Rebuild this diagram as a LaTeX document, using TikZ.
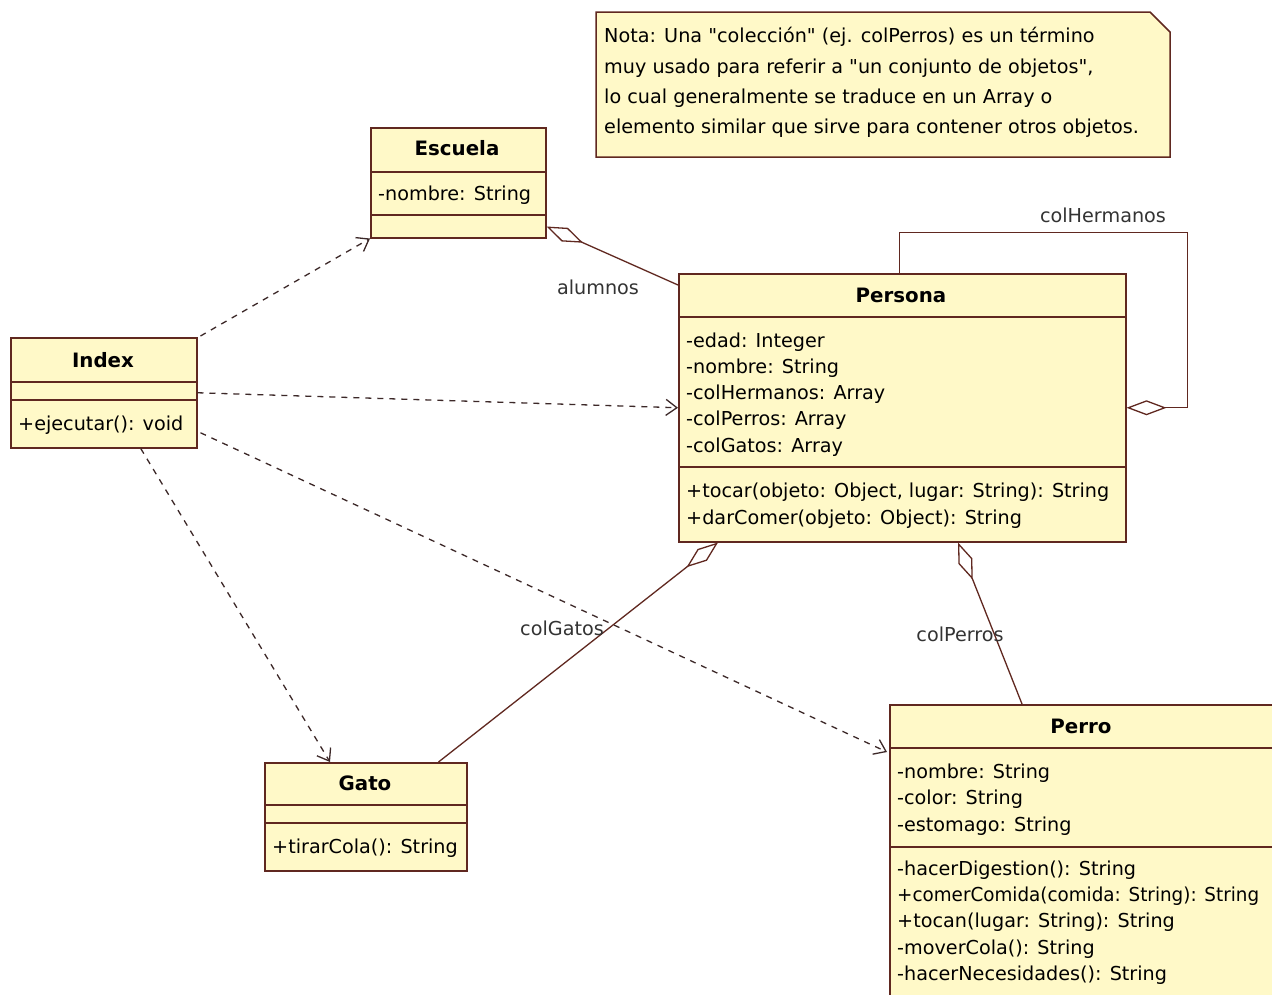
\documentclass[tikz,border=0pt]{standalone}
\usepackage{graphicx}
\usepackage{fontspec}
\setmainfont{DejaVu Sans}
\usetikzlibrary{arrows.meta,calc}
\definecolor{umlfill}{RGB}{255,249,200}
\definecolor{umlline}{RGB}{96,40,32}
\definecolor{depline}{RGB}{60,40,40}
\newcommand\memfont{\fontsize{19.2}{22}\selectfont}
\newcommand\ttlfont{\fontsize{19.8}{22}\selectfont\bfseries}
\newcommand\qq{\textquotedbl}
\tikzset{
  cls/.style={draw=umlline, fill=umlfill, line width=1.5pt, inner sep=0, anchor=north west},
  sepline/.style={draw=umlline, line width=1.5pt},
  ttl/.style={font=\ttlfont, inner sep=0},
  mem/.style={font=\memfont, anchor=base west, inner sep=0},
  lbl/.style={font=\memfont, text=black!80, inner sep=0},
  dep/.style={draw=depline, line width=1.3pt, dash pattern=on 6pt off 6pt,
    -{Straight Barb[length=11pt,width=16pt,line width=1.3pt]}},
  agg/.style={draw=umlline, line width=1.3pt,
    {Diamond[open,length=40pt,width=15pt,line width=1.3pt]}-},
}
\begin{document}
\begin{tikzpicture}[x=1pt,y=-1pt]
\useasboundingbox (0,0) rectangle (1272,994);
\clip (0,0) rectangle (1272,994);
\fill[white] (0,0) rectangle (1272,994);

% note with folded corner
\draw[umlline, fill=umlfill, line width=1.5pt]
  (596,12) -- (1150,12) -- (1170,32) -- (1170,157) -- (596,157) -- cycle;
\node[mem] (n1) at (604,42) {Nota: Una \qq colección\qq{} (ej. colPerros) es un término};
\node[mem] (n2) at (604,73) {muy usado para referir a \qq un conjunto de objetos\qq,};
\node[mem] (n3) at (604,103) {lo cual generalmente se traduce en un Array o};
\node[mem] (n4) at (604,133) {elemento similar que sirve para contener otros objetos.};

% Escuela
\node[cls, minimum width=175pt, minimum height=110pt] (escuela) at (370,127) {};
\draw[sepline] ($(escuela.north west)+(0,45)$) -- ($(escuela.north east)+(0,45)$);
\draw[sepline] ($(escuela.north west)+(0,88)$) -- ($(escuela.north east)+(0,88)$);
\node[ttl] (escuelaT) at (457,148) {Escuela};
\node[mem] (escuelaA1) at (378,200) {-nombre: String};

% Index
\node[cls, minimum width=186pt, minimum height=110pt] (index) at (10,337) {};
\draw[sepline] ($(index.north west)+(0,45)$) -- ($(index.north east)+(0,45)$);
\draw[sepline] ($(index.north west)+(0,63)$) -- ($(index.north east)+(0,63)$);
\node[ttl] (indexT) at (103,360) {Index};
\node[mem] (indexM1) at (18,430) {+ejecutar(): void};

% Persona
\node[cls, minimum width=447pt, minimum height=268pt] (persona) at (678,273) {};
\draw[sepline] ($(persona.north west)+(0,44)$) -- ($(persona.north east)+(0,44)$);
\draw[sepline] ($(persona.north west)+(0,194)$) -- ($(persona.north east)+(0,194)$);
\node[ttl] (personaT) at (901,295) {Persona};
\node[mem] (personaA1) at (686,347) {-edad: Integer};
\node[mem] (personaA2) at (686,373) {-nombre: String};
\node[mem] (personaA3) at (686,399) {-colHermanos: Array};
\node[mem] (personaA4) at (686,425) {-colPerros: Array};
\node[mem] (personaA5) at (686,452) {-colGatos: Array};
\node[mem] (personaM1) at (686,497) {+tocar(objeto: Object, lugar: String): String};
\node[mem] (personaM2) at (686,524) {+darComer(objeto: Object): String};

% Gato
\node[cls, minimum width=202pt, minimum height=108pt] (gato) at (264,762) {};
\draw[sepline] ($(gato.north west)+(0,43)$) -- ($(gato.north east)+(0,43)$);
\draw[sepline] ($(gato.north west)+(0,61)$) -- ($(gato.north east)+(0,61)$);
\node[ttl] (gatoT) at (365,783) {Gato};
\node[mem] (gatoM1) at (272,853) {+tirarCola(): String};

% Perro (its right and bottom edges run off the page)
\node[cls, minimum width=386pt, minimum height=295pt] (perro) at (889,704) {};
\draw[sepline] ($(perro.north west)+(0,44)$) -- ($(perro.north east)+(0,44)$);
\draw[sepline] ($(perro.north west)+(0,143)$) -- ($(perro.north east)+(0,143)$);
\node[ttl] (perroT) at (1081,726) {Perro};
\node[mem] (perroA1) at (897,778) {-nombre: String};
\node[mem] (perroA2) at (897,804) {-color: String};
\node[mem] (perroA3) at (897,831) {-estomago: String};
\node[mem] (perroM1) at (897,875) {-hacerDigestion(): String};
\node[mem] (perroM2) at (897,901) {\scalebox{0.955}[1]{+comerComida(comida: String): String}};
\node[mem] (perroM3) at (897,927) {+tocan(lugar: String): String};
\node[mem] (perroM4) at (897,954) {-moverCola(): String};
\node[mem] (perroM5) at (897,980) {-hacerNecesidades(): String};

% dependencies from Index
\draw[dep] ($(index.north east)+(3,-1)$) -- (escuela.south west);
\draw[dep] (index.east) -- (persona.west);
\draw[dep] ($(index.east)+(3,40)$) -- ($(perro.north west)+(-2,48)$);
\draw[dep] ($(index.south)+(37,0)$) -- ($(gato.north west)+(66,0)$);

% aggregations into Persona
\draw[agg] ($(escuela.south east)+(0,-12)$) -- ($(persona.north west)+(0,12)$);
\draw[agg] ($(persona.south west)+(40,0)$) -- ($(gato.north east)+(-29,0)$);
\draw[agg] ($(persona.south west)+(280,0)$) -- ($(perro.north west)+(133,0)$);
\draw[agg] (persona.east) -- ++(61,0) -- ++(0,-175) -| ($(persona.north)+(-3,0)$);

% role names
\node[lbl] (alumnos) at (598,287) {alumnos};
\node[lbl] (colGatos) at (562,628) {colGatos};
\node[lbl] (colPerros) at (960,634) {colPerros};
\node[lbl] (colHermanos) at (1103,215) {colHermanos};
\end{tikzpicture}
\end{document}
